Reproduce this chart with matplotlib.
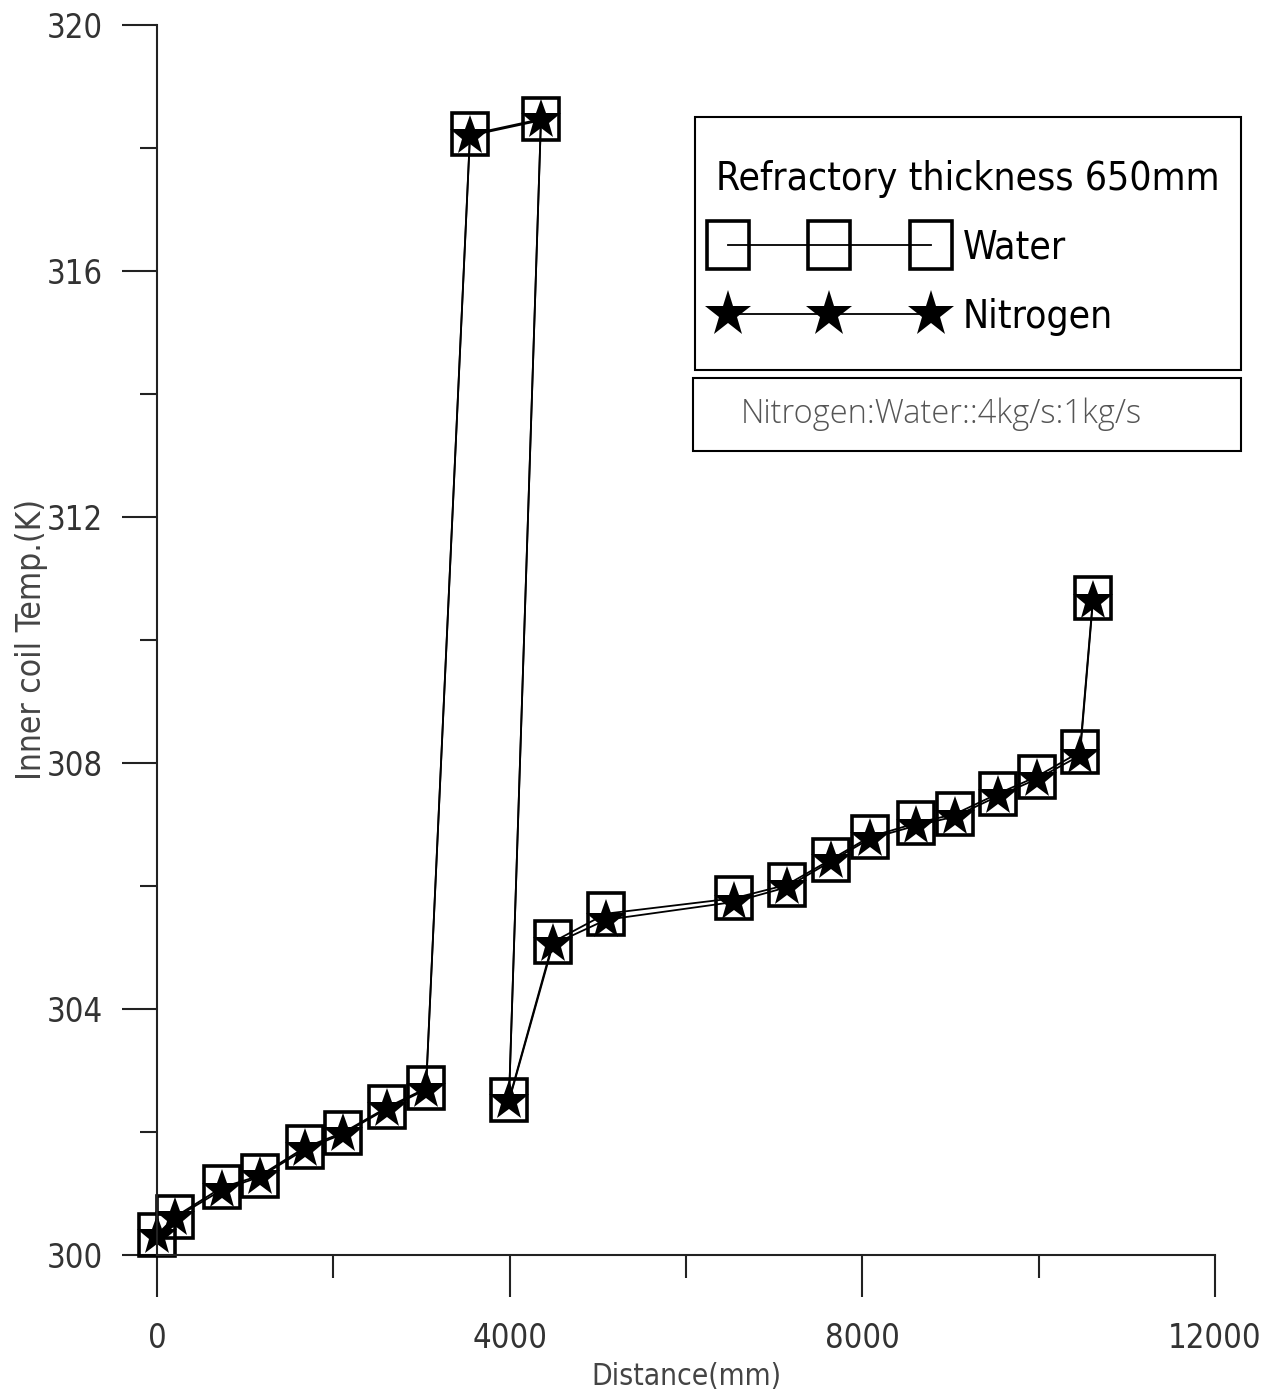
import matplotlib
matplotlib.use("Agg")
import matplotlib.pyplot as plt
from matplotlib.ticker import MultipleLocator
from matplotlib.patches import Rectangle
from matplotlib.markers import MarkerStyle
from matplotlib.transforms import Affine2D

distance = [0, 204, 737, 1168, 1679, 2110, 2609, 3051, 3550, 4355, 3992, 4491,
            5092, 6543, 7144, 7643, 8086, 8607, 9050, 9537, 9980, 10468, 10616]
water = [300.33, 300.62, 301.10, 301.29, 301.75, 301.99, 302.40, 302.71, 318.22, 318.47,
         302.52, 305.09, 305.55, 305.80, 306.02, 306.43, 306.80, 307.02, 307.17, 307.50,
         307.78, 308.18, 310.68]
nitrogen = [300.31, 300.60, 301.06, 301.27, 301.72, 301.97, 302.38, 302.69, 318.20, 318.45,
            302.50, 305.05, 305.45, 305.74, 305.98, 306.40, 306.77, 306.98, 307.13, 307.46,
            307.74, 308.12, 310.64]

plt.rcParams['font.family'] = ['DejaVu Sans']
plt.rcParams['font.stretch'] = 'condensed'

# slightly tall square marker like the reference
rect_marker = MarkerStyle('s', transform=Affine2D().scale(0.86, 1.0))

fig = plt.figure(figsize=(12.69, 13.97), dpi=100)
ax = fig.add_axes([157/1269, 1 - 1255/1397, (1215-157)/1269, (1255-25)/1397])

ax.plot(distance, water, color='black', lw=1.3, marker=rect_marker, markersize=30,
        markerfacecolor='none', markeredgecolor='black', markeredgewidth=2.6,
        label='Water', clip_on=False)
ax.plot(distance, nitrogen, color='black', lw=1.3, marker='*', markersize=30.5,
        markerfacecolor='black', markeredgecolor='black', markeredgewidth=0,
        label='Nitrogen', clip_on=False)

ax.set_xlim(0, 12000)
ax.set_ylim(300, 320)
ax.xaxis.set_major_locator(MultipleLocator(4000))
ax.xaxis.set_minor_locator(MultipleLocator(2000))
ax.yaxis.set_major_locator(MultipleLocator(4))
ax.yaxis.set_minor_locator(MultipleLocator(2))

for s in ['top', 'right']:
    ax.spines[s].set_visible(False)
for s in ['left', 'bottom']:
    ax.spines[s].set_linewidth(1.5)
    ax.spines[s].set_color('#222222')

tc = '#333333'
ax.tick_params(axis='y', which='major', direction='out', length=25, width=1.5, pad=14,
               labelsize=23.5, labelcolor=tc, color='#222222')
ax.tick_params(axis='y', which='minor', direction='out', length=12, width=1.5, color='#222222')
ax.tick_params(axis='x', which='major', direction='out', length=30, width=1.5, pad=18,
               labelsize=23.5, labelcolor=tc, color='#222222')
ax.tick_params(axis='x', which='minor', direction='out', length=16.5, width=1.5, color='#222222')

ax.set_xlabel('Distance(mm)', fontsize=21.5, color='#444444')
ax.set_ylabel('Inner coil Temp.(K)', fontsize=24, color='#444444')
ax.yaxis.set_label_coords(-0.1033, 0.5)
ax.xaxis.set_label_coords(0.5, -0.087)

# legend frame drawn separately, contents placed by legend
fig.patches.append(Rectangle((695/1269, 1 - 370/1397), (1241-695)/1269, (370-117)/1397,
                             transform=fig.transFigure, fill=False, edgecolor='black', lw=1.5))
fs = 28
leg = ax.legend(title='Refractory thickness 650mm', numpoints=3, handlelength=5.8,
                fontsize=fs, title_fontsize=fs, frameon=False, markerscale=1.15,
                loc='upper left', mode='expand',
                bbox_to_anchor=(703/1269, 1 - 400/1397, (1233-703)/1269, (400-146)/1397),
                bbox_transform=fig.transFigure,
                borderpad=0.35, labelspacing=0.80, handletextpad=0.53, borderaxespad=0)

fig.patches.append(Rectangle((693/1269, 1 - 451/1397), (1241-693)/1269, (451-378)/1397,
                             transform=fig.transFigure, fill=False, edgecolor='black', lw=1.5))
fig.text(741/1269, 1 - 414/1397, 'Nitrogen:Water::4kg/s:1kg/s', fontsize=23.5,
         color='#555555', va='center', ha='left', family=['Open Sans', 'DejaVu Sans'],
         fontweight='light', fontstretch='normal')

fig.savefig('out.png', dpi=100)
